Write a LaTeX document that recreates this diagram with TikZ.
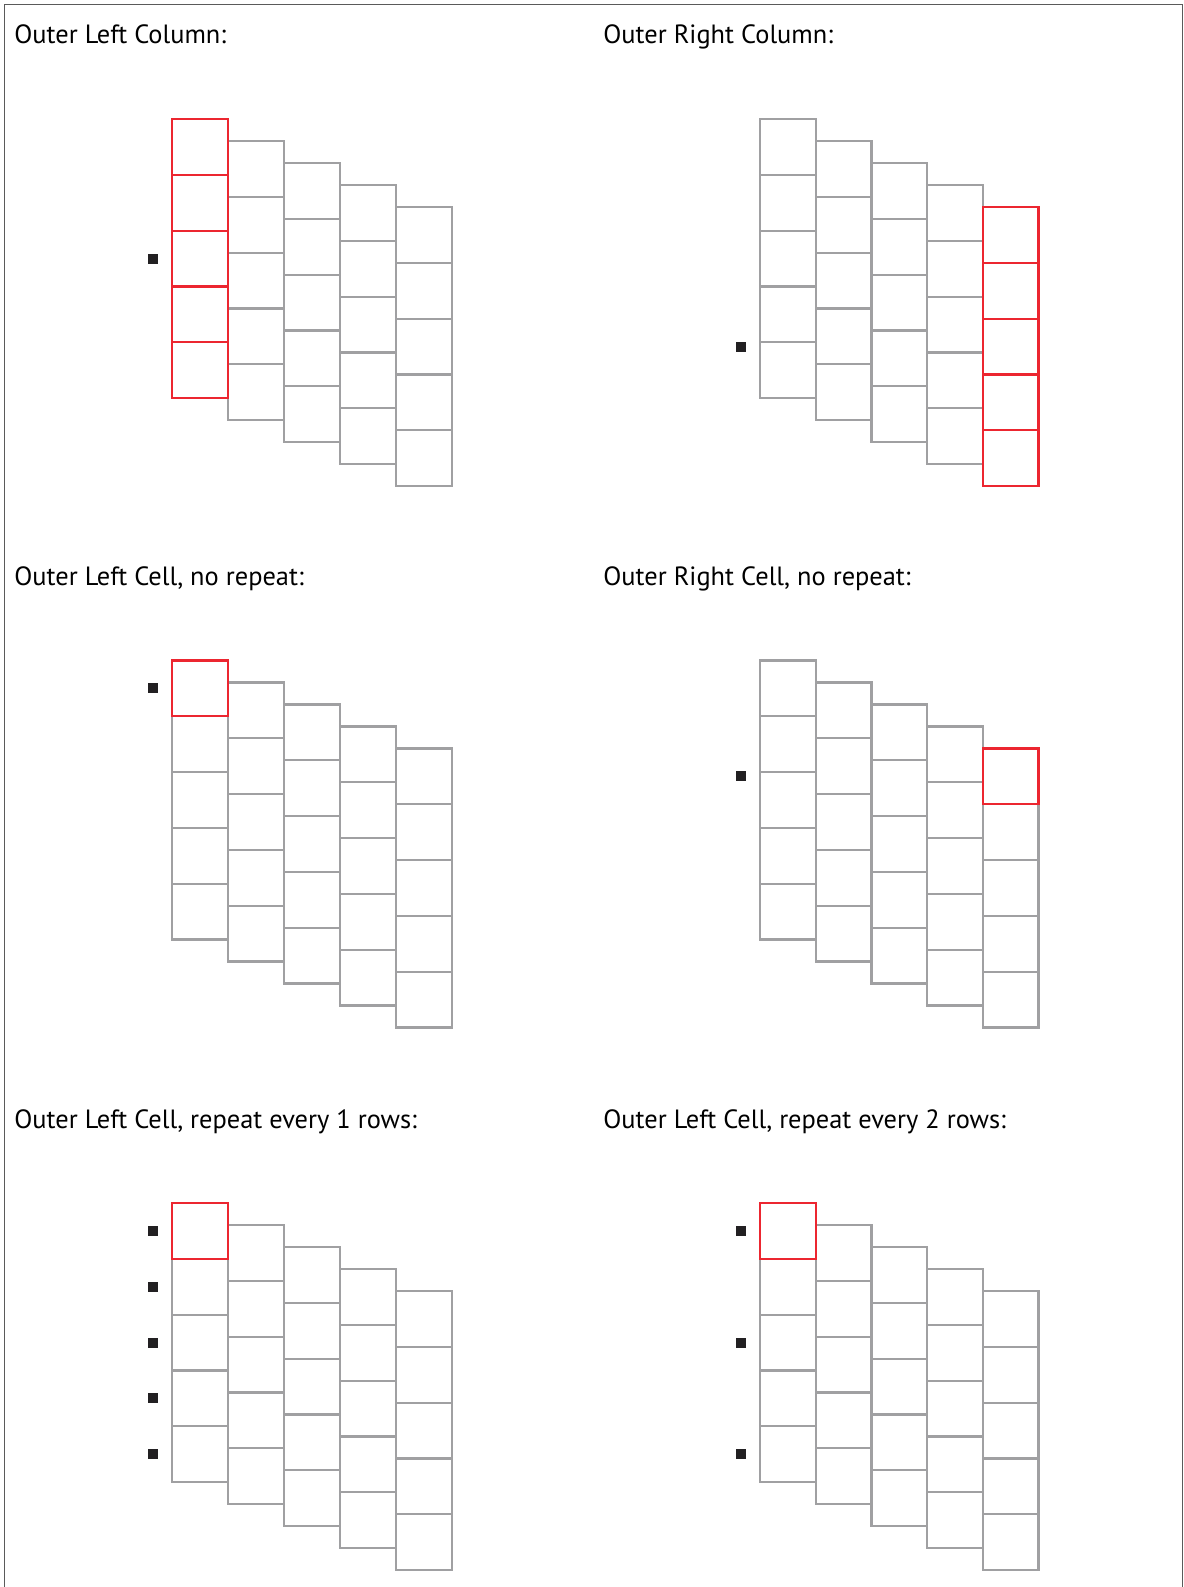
\documentclass[tikz,border=0pt]{standalone}
\usepackage{fontspec}
\setmainfont{PT Sans}
\definecolor{gridgray}{RGB}{160,160,162}
\definecolor{hired}{RGB}{236,38,48}
\definecolor{framegray}{RGB}{90,90,90}
\definecolor{markblack}{RGB}{34,32,34}
\tikzset{
  cellg/.style={draw=gridgray,line width=1.1pt},
  cellr/.style={draw=hired,line width=1.1pt},
  marker/.style={fill=markblack,draw=none},
  frameline/.style={draw=framegray,line width=0.7pt},
  title/.style={anchor=base west,inner sep=0pt,font=\fontsize{13.2}{15}\selectfont}
}
% grid with origin #1,#2, cell width #3
\newcommand\mygrid[3]{%
  \foreach \c in {0,...,4}{\foreach \r in {0,...,4}{%
    \draw[cellg] ({#1+\c*#3},{#2+\c*22+\r*55.8}) rectangle ++(#3,55.8);}}}
\newcommand\redcell[5]{% ox oy width col row
  \draw[cellr] ({#1+#4*#3},{#2+#4*22+#5*55.8}) rectangle ++(#3,55.8);}
\newcommand\mymark[2]{\fill[marker] ({#1-5},{#2-5}) rectangle ++(10,10);}
\begin{document}
\begin{tikzpicture}[x=0.5pt,y=-0.5pt]
\useasboundingbox (0,0) rectangle (1184,1587);
% frame
\draw[frameline] (4.5,1587) -- (4.5,4.5) -- (1182.5,4.5) -- (1182.5,1587);
% titles
\node[title] (t1) at (14,43) {Outer Left Column:};
\node[title] (t2) at (603,43) {Outer Right Column:};
\node[title] (t3) at (14,585) {Outer Left Cell, no repeat:};
\node[title] (t4) at (603,585) {Outer Right Cell, no repeat:};
\node[title] (t5) at (14,1128) {Outer Left Cell, repeat every 1 rows:};
\node[title] (t6) at (603,1128) {Outer Left Cell, repeat every 2 rows:};
% panel 1
\mygrid{171.7}{119}{56}
\foreach \r in {0,...,4}{\redcell{171.7}{119}{56}{0}{\r}}
\mymark{152.5}{258.5}
% panel 2
\mygrid{760}{119}{55.7}
\foreach \r in {0,...,4}{\redcell{760}{119}{55.7}{4}{\r}}
\mymark{741}{346.5}
% panel 3
\mygrid{171.7}{660.5}{56}
\redcell{171.7}{660.5}{56}{0}{0}
\mymark{152.5}{688.4}
% panel 4
\mygrid{760}{660.5}{55.7}
\redcell{760}{660.5}{55.7}{4}{0}
\mymark{741}{776.4}
% panel 5
\mygrid{171.7}{1203}{56}
\redcell{171.7}{1203}{56}{0}{0}
\foreach \r in {0,...,4}{\mymark{152.5}{1230.9+\r*55.8}}
% panel 6
\mygrid{760}{1203}{55.7}
\redcell{760}{1203}{55.7}{0}{0}
\foreach \r in {0,2,4}{\mymark{741}{1230.9+\r*55.8}}
\end{tikzpicture}
\end{document}
